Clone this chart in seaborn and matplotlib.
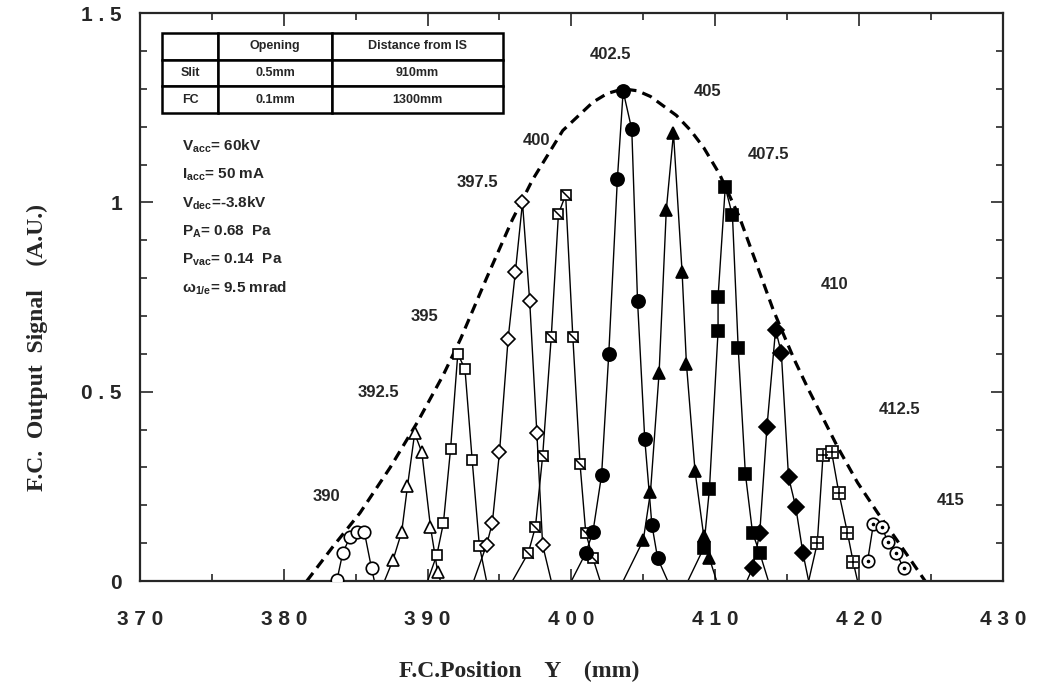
import numpy as np
import pandas as pd
import matplotlib
matplotlib.use("Agg")
import matplotlib.pyplot as plt
import seaborn as sns
from matplotlib.path import Path
from matplotlib.ticker import MultipleLocator

# ---- data ----
# envelope (dashed)
env_x = [381.6, 383.4, 385.3, 387.4, 389.3, 391.1, 392.3, 394.1, 395.9, 397.3, 399.4,
         401.5, 402.5, 403.6, 404.6, 405.5, 407.3, 408.3, 409.2, 410.3, 411.7, 412.9,
         414.0, 414.6, 415.5, 416.5, 417.5, 418.5, 419.9, 421.3, 422.6, 423.6, 424.6]
env_y = [0.0, 0.09, 0.18, 0.30, 0.42, 0.545, 0.64, 0.80, 0.955, 1.06, 1.19,
         1.265, 1.288, 1.30, 1.295, 1.28, 1.23, 1.19, 1.145, 1.075, 0.96, 0.835,
         0.72, 0.665, 0.585, 0.505, 0.43, 0.355, 0.26, 0.18, 0.11, 0.055, 0.0]

# peaks: marker points and where the line meets zero (start, end)
x390 = [383.7, 384.1, 384.6, 385.1, 385.6, 386.1]
y390 = [0.003, 0.074, 0.116, 0.13, 0.13, 0.034]
z390 = [None, 386.3]

x392 = [387.6, 388.2, 388.6, 389.1, 389.6, 390.2, 390.7]
y392 = [0.056, 0.13, 0.25, 0.39, 0.34, 0.143, 0.024]
z392 = [387.0, 390.9]

x395 = [390.65, 391.1, 391.6, 392.1, 392.6, 393.1, 393.6]
y395 = [0.07, 0.153, 0.35, 0.60, 0.56, 0.32, 0.093]
z395 = [390.0, 394.1]

x397 = [394.1, 394.5, 395.0, 395.6, 396.1, 396.6, 397.1, 397.6, 398.0]
y397 = [0.095, 0.153, 0.34, 0.64, 0.815, 1.0, 0.74, 0.39, 0.095]
z397 = [393.2, 398.6]

x400 = [397.0, 397.5, 398.0, 398.6, 399.1, 399.6, 400.1, 400.6, 401.0, 401.5]
y400 = [0.074, 0.143, 0.33, 0.645, 0.97, 1.02, 0.645, 0.31, 0.127, 0.06]
z400 = [395.9, 402.0]

x402 = [401.0, 401.5, 402.1, 402.6, 403.2, 403.6, 404.2, 404.6, 405.1, 405.6, 406.0]
y402 = [0.074, 0.13, 0.28, 0.60, 1.063, 1.294, 1.193, 0.74, 0.376, 0.148, 0.06]
z402 = [400.0, 406.7]

x405 = [405.0, 405.5, 406.1, 406.6, 407.1, 407.7, 408.0, 408.6, 409.2, 409.6]
y405 = [0.108, 0.235, 0.55, 0.98, 1.183, 0.815, 0.574, 0.29, 0.12, 0.06]
z405 = [403.6, 410.1]

x407 = [409.2, 409.6, 410.2, 410.2, 410.7, 411.2, 411.6, 412.1, 412.6, 413.1]
y407 = [0.087, 0.243, 0.66, 0.75, 1.04, 0.966, 0.616, 0.283, 0.127, 0.074]
z407 = [408.1, 413.7]

x410 = [412.6, 413.1, 413.6, 414.2, 414.6, 415.1, 415.6, 416.1]
y410 = [0.034, 0.127, 0.407, 0.664, 0.603, 0.275, 0.196, 0.074]
z410 = [412.2, 416.5]

x412 = [417.1, 417.5, 418.1, 418.6, 419.2, 419.6]
y412 = [0.10, 0.333, 0.34, 0.233, 0.127, 0.05]
z412 = [416.5, 419.9]

x415 = [420.6, 421.0, 421.6, 422.0, 422.6, 423.1]
y415 = [0.053, 0.15, 0.143, 0.103, 0.074, 0.034]
z415 = [None, None]

# peak labels
lab_text = ["390", "392.5", "395", "397.5", "400", "402.5", "405", "407.5", "410", "412.5", "415"]
lab_x = [383.0, 386.6, 389.8, 393.5, 397.6, 402.7, 409.5, 413.7, 418.3, 422.8, 426.4]
lab_y = [0.222, 0.497, 0.698, 1.053, 1.164, 1.392, 1.294, 1.127, 0.783, 0.452, 0.214]

xticks = [370, 380, 390, 400, 410, 420, 430]
yticks = [0, 0.5, 1, 1.5]
ytick_labels = ["0", "0.5", "1", "1.5"]

table_rows = [["", "Opening", "Distance from IS"],
              ["Slit", "0.5mm", "910mm"],
              ["FC", "0.1mm", "1300mm"]]

params = [r"V$_{\mathbf{acc}}$= 60kV",
          r"I$_{\mathbf{acc}}$= 50 mA",
          r"V$_{\mathbf{dec}}$=-3.8kV",
          r"P$_{\mathbf{A}}$= 0.68  Pa",
          r"P$_{\mathbf{vac}}$= 0.14  Pa",
          r"ω$_{\mathbf{1/e}}$= 9.5 mrad"]

# ---- plotting ----
sns.set_style("ticks")
plt.rcParams["font.family"] = ["Liberation Sans", "DejaVu Sans"]
plt.rcParams["mathtext.fontset"] = "custom"
plt.rcParams["mathtext.bf"] = "Liberation Sans:bold"
plt.rcParams["mathtext.rm"] = "Liberation Sans:bold"

fig = plt.figure(figsize=(10.37, 6.94), dpi=100)
ax = fig.add_axes([0.135, 0.1628, 0.832, 0.8182])

sns.lineplot(x=env_x, y=env_y, ax=ax, color="black", lw=2.3, estimator=None, sort=False,
             dashes=False, linestyle=(0, (3.2, 2.0)))

slash = Path([(-1, 1), (1, -1)], [Path.MOVETO, Path.LINETO])

peaks = [
    (x390, y390, z390, dict(marker="o", ms=9, mfc="white"), None),
    (x392, y392, z392, dict(marker="^", ms=8, mfc="white"), None),
    (x395, y395, z395, dict(marker="s", ms=7.5, mfc="white"), None),
    (x397, y397, z397, dict(marker="D", ms=7, mfc="white"), None),
    (x400, y400, z400, dict(marker="s", ms=7.5, mfc="white"), dict(marker=slash, ms=7.5)),
    (x402, y402, z402, dict(marker="o", ms=9.5, mfc="black"), None),
    (x405, y405, z405, dict(marker="^", ms=9, mfc="black"), None),
    (x407, y407, z407, dict(marker="s", ms=8, mfc="black"), None),
    (x410, y410, z410, dict(marker="D", ms=8, mfc="black"), None),
    (x412, y412, z412, dict(marker="s", ms=8, mfc="white"), dict(marker="+", ms=7)),
    (x415, y415, z415, dict(marker="o", ms=9, mfc="white"), dict(marker=".", ms=3)),
]

for px, py, pz, mstyle, overlay in peaks:
    lx = list(px)
    ly = list(py)
    if pz[0] is not None:
        lx = [pz[0]] + lx
        ly = [0.0] + ly
    if pz[1] is not None:
        lx = lx + [pz[1]]
        ly = ly + [0.0]
    sns.lineplot(x=lx, y=ly, ax=ax, color="black", lw=1.0, estimator=None, sort=False)
    ax.plot(px, py, ls="none", mec="black", mew=1.2, zorder=5, **mstyle)
    if overlay is not None:
        ax.plot(px, py, ls="none", color="black", mew=1.1, zorder=6, **overlay)

for t, tx, ty in zip(lab_text, lab_x, lab_y):
    ax.text(tx, ty, t, ha="center", va="center", fontsize=12, fontweight="bold")

# parameter block
for i, s in enumerate(params):
    ax.text(0.049, 0.766 - i * 0.0502, s, transform=ax.transAxes, fontsize=11,
            fontweight="bold", va="center", ha="left")

# table
tb = ax.table(cellText=table_rows, cellLoc="center",
              colWidths=[56, 114, 171], bbox=[0.0255, 0.824, 0.395, 0.141])
tb.auto_set_font_size(False)
for (r, c), cell in tb.get_celld().items():
    cell.set_linewidth(1.8)
    cell.set_edgecolor("black")
    cell.get_text().set_fontsize(9)
    cell.get_text().set_fontweight("bold")

ax.set_xlim(370, 430)
ax.set_ylim(0, 1.5)
ax.set_xticks(xticks)
ax.set_xticklabels([" ".join(str(v)) for v in xticks])
ax.set_yticks(yticks)
ax.set_yticklabels([" ".join(s) for s in ytick_labels])
ax.xaxis.set_minor_locator(MultipleLocator(5))
ax.yaxis.set_minor_locator(MultipleLocator(0.1))
ax.tick_params(which="both", direction="in", top=True, right=True, width=1.2)
ax.tick_params(which="major", length=9)
ax.tick_params(which="minor", length=5)
ax.tick_params(axis="x", pad=21, labelsize=15)
ax.tick_params(axis="y", pad=13, labelsize=15)
for lab in ax.get_xticklabels() + ax.get_yticklabels():
    lab.set_fontweight("bold")
for sp in ax.spines.values():
    sp.set_linewidth(1.6)

ax.set_xlabel("F.C.Position    Y    (mm)", fontsize=17, fontweight="bold",
              family=["Liberation Serif", "DejaVu Serif"])
ax.set_ylabel("F.C.  Output  Signal    (A.U.)", fontsize=17, fontweight="bold",
              family=["Liberation Serif", "DejaVu Serif"])
ax.xaxis.set_label_coords(0.44, -0.14)
ax.yaxis.set_label_coords(-0.107, 0.412)

fig.savefig("out.png", dpi=100)
